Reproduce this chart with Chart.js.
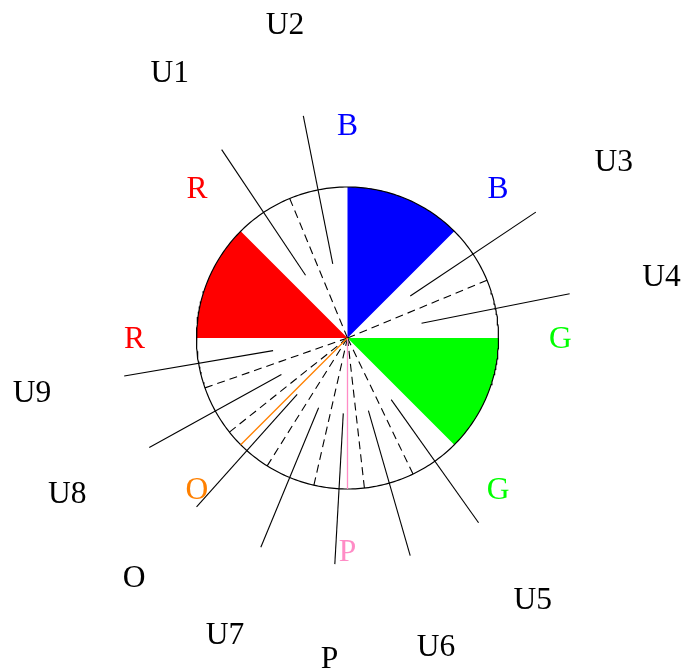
<!DOCTYPE html>
<html>
<head>
<meta charset="utf-8">
<script src="https://cdn.jsdelivr.net/npm/chart.js@4/dist/chart.umd.min.js"></script>
<style>
    html, body { margin: 0; padding: 0; background: #fff; }
    canvas { display: block; }
</style>
</head>
<body>
<canvas id="wheel" width="684" height="671"></canvas>
<script>
/* ===============
   WHEEL DATA
   =============== */
// filled sectors, angles in degrees (counter-clockwise from east)
const sectorStart = [45, -45, 135];
const sectorEnd = [90, 0, 180];
const sectorColors = ['#0000ff', '#00ff00', '#ff0000'];

// dashed spokes splitting the white gaps
const dashAngles = [22.5, 112.5, 199.29, 218.57, 237.86, 257.14, 276.43, 295.71];

// outer labels and their solid spokes
const unitLabels = ['U1', 'U2', 'U3', 'U4', 'U5', 'U6', 'U7', 'U8', 'U9', 'O', 'P'];
const unitAngles = [123.75, 101.25, 33.75, 11.25, 305.36, 286.07, 247.5, 208.93, 189.64, 228.21, 266.79];

// coloured labels on the sector edges
const edgeLabels = ['B', 'B', 'G', 'G', 'R', 'R', 'O', 'P'];
const edgeAngles = [90, 45, 0, -45, 180, 135, 225, 270];
const edgeColors = ['#0000ff', '#0000ff', '#00ff00', '#00ff00', '#ff0000', '#ff0000', '#ff8000', '#ff8cc6'];

// single coloured marker spokes
const markerAngles = [225, 270];
const markerColors = ['#ff8000', '#ff8cc6'];

/* ===============
   HELPERS
   =============== */
const polar = (deg, r) => {
    const a = deg * Math.PI / 180;
    return { x: r * Math.cos(a), y: r * Math.sin(a) };
};
const arcPoints = (a0, a1, r) => {
    const pts = [];
    for (let a = a0; a < a1; a += 1) pts.push(polar(a, r));
    pts.push(polar(a1, r));
    return pts;
};

const lineBase = { showLine: true, pointRadius: 0, pointHoverRadius: 0, fill: false, tension: 0 };
const datasets = [];

// sectors (bottom layer)
sectorStart.forEach((s, i) => {
    datasets.push({
        ...lineBase,
        data: [{ x: 0, y: 0 }, ...arcPoints(s, sectorEnd[i], 1), { x: 0, y: 0 }],
        backgroundColor: sectorColors[i],
        borderColor: sectorColors[i],
        borderWidth: 0,
        fill: 'shape',
        order: 10
    });
});

// outline circle
datasets.push({ ...lineBase, data: arcPoints(0, 360, 1), borderColor: '#000', borderWidth: 1.2, order: 5 });

// dashed spokes
dashAngles.forEach(a => {
    datasets.push({ ...lineBase, data: [{ x: 0, y: 0 }, polar(a, 1)], borderColor: '#000', borderWidth: 1.1, borderDash: [8, 5], order: 3 });
});

// solid spokes for each outer label
unitAngles.forEach(a => {
    datasets.push({ ...lineBase, data: [polar(a, 0.5), polar(a, 1.5)], borderColor: '#000', borderWidth: 1.1, order: 2 });
});

// coloured markers
markerAngles.forEach((a, i) => {
    datasets.push({ ...lineBase, data: [{ x: 0, y: 0 }, polar(a, 1)], borderColor: markerColors[i], borderWidth: 1.3, order: 1 });
});

// text labels placed through the chart scales
const labelPlugin = {
    id: 'wheelLabels',
    afterDatasetsDraw(chart) {
        const { ctx, scales: { x, y } } = chart;
        const size = 31.5;
        ctx.save();
        ctx.font = size + 'px "Liberation Serif", "DejaVu Serif", serif';
        ctx.textAlign = 'center';
        ctx.textBaseline = 'alphabetic';
        const put = (txt, deg, r, color) => {
            const p = polar(deg, r);
            ctx.fillStyle = color;
            ctx.fillText(txt, x.getPixelForValue(p.x), y.getPixelForValue(p.y) + size * 0.33);
        };
        unitLabels.forEach((t, i) => put(t, unitAngles[i], 2.12, '#000'));
        edgeLabels.forEach((t, i) => put(t, edgeAngles[i], 1.41, edgeColors[i]));
        ctx.restore();
    }
};

const R_PX = 151, CX = 347.5, CY = 338;
new Chart(document.getElementById('wheel'), {
    type: 'scatter',
    data: { datasets },
    options: {
        responsive: false,
        animation: false,
        devicePixelRatio: 1,
        layout: { padding: 0 },
        plugins: { legend: { display: false }, tooltip: { enabled: false } },
        scales: {
            x: { type: 'linear', display: false, min: -CX / R_PX, max: (684 - CX) / R_PX },
            y: { type: 'linear', display: false, min: -(671 - CY) / R_PX, max: CY / R_PX }
        }
    },
    plugins: [labelPlugin]
});
</script>
</body>
</html>
